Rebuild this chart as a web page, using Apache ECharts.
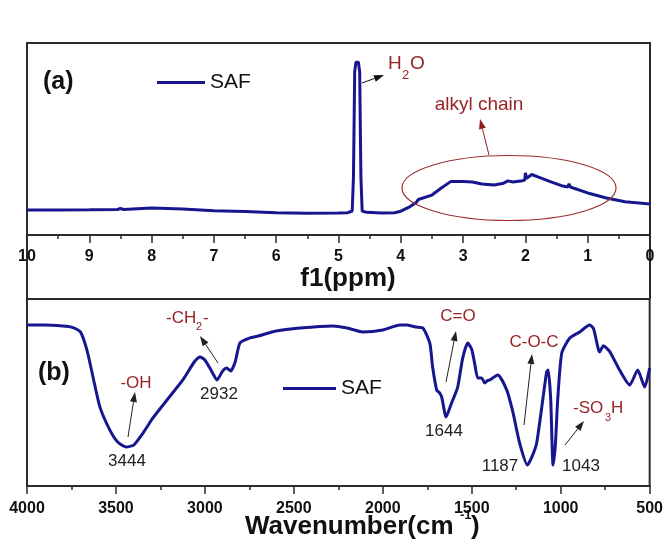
<!DOCTYPE html>
<html>
<head>
<meta charset="utf-8">
<script src="https://cdn.jsdelivr.net/npm/echarts@6/dist/echarts.min.js"></script>
<style>
html,body{margin:0;padding:0;background:#fff;}
#c{width:666px;height:547px;}
</style>
</head>
<body>
<div id="c"></div>
<script>
// ---- Data ----
// (a) 1H NMR spectrum of SAF
const nmrPpm = [10.0, 9.5, 9.0, 8.55, 8.5, 8.45, 8.0, 7.5, 7.0, 6.5, 6.0, 5.5, 5.0, 4.85, 4.78, 4.76, 4.74, 4.72, 4.68, 4.66, 4.64, 4.62, 4.55, 4.3, 4.1, 4.0, 3.85, 3.75, 3.72, 3.69, 3.5, 3.35, 3.2, 3.0, 2.85, 2.7, 2.5, 2.35, 2.28, 2.2, 2.05, 2.01, 2.0, 1.98, 1.9, 1.8, 1.6, 1.4, 1.32, 1.3, 1.28, 1.0, 0.7, 0.4, 0.0];
const nmrIntensity = [13.0, 13.0, 13.1, 13.3, 13.8, 13.3, 14.1, 13.6, 12.6, 12.3, 11.6, 11.3, 11.4, 11.6, 12.5, 30, 85, 90, 90, 85, 30, 12.5, 11.8, 11.4, 11.6, 12.4, 14.8, 17.0, 18.5, 17.6, 20.8, 24.5, 27.8, 27.9, 27.6, 26.6, 26.0, 27.0, 28.2, 27.6, 28.3, 28.6, 32.4, 29.5, 31.5, 30.3, 27.8, 25.5, 25.0, 26.6, 25.0, 21.9, 19.3, 17.3, 16.1];
// (b) FTIR spectrum of SAF
const irWavenumber = [4000, 3900, 3800, 3750, 3700, 3663, 3629, 3590, 3534, 3490, 3444, 3400, 3348, 3292, 3213, 3124, 3060, 3028, 3000, 2960, 2932, 2900, 2878, 2855, 2830, 2803, 2750, 2700, 2600, 2466, 2281, 2200, 2112, 2000, 1904, 1866, 1815, 1775, 1736, 1720, 1697, 1680, 1669, 1644, 1615, 1579, 1551, 1522, 1500, 1483, 1466, 1444, 1427, 1410, 1398, 1354, 1303, 1269, 1231, 1187, 1160, 1135, 1101, 1079, 1070, 1056, 1043, 1030, 1017, 994, 949, 893, 837, 815, 781, 760, 725, 669, 612, 567, 528, 500];
const irIntensity = [86.1, 86.1, 85.6, 85.0, 82.4, 72.7, 58.3, 42.2, 29.9, 23.5, 20.9, 21.9, 28.3, 36.4, 46.0, 56.7, 66.3, 69.0, 67.4, 61.0, 56.7, 61.5, 63.1, 61.5, 66.3, 76.5, 79.1, 80.2, 82.9, 84.5, 85.6, 84.5, 82.4, 83.4, 86.1, 86.1, 85.0, 84.5, 76.5, 63.6, 51.3, 49.7, 47.6, 36.9, 44.0, 52.9, 68.4, 76.5, 73.0, 65.2, 57.8, 57.8, 55.1, 56.5, 56.7, 59.4, 51.3, 39.6, 23.0, 11.2, 16.0, 23.0, 46.0, 61.0, 62.0, 46.0, 11.2, 22.0, 46.0, 71.1, 79.1, 82.4, 86.1, 84.0, 71.7, 75.0, 72.0, 62.0, 54.0, 62.0, 52.9, 63.1];
// axis ranges / tick labels
const nmrAxis = {min: 0, max: 10, interval: 1};
const irAxis = {min: 500, max: 4000, interval: 500};
const seriesName = 'SAF';
const peakLabels = ['3444', '2932', '1644', '1187', '1043'];

// ---- Chart ----
const FONT = '"Liberation Sans", Arial, sans-serif';
const LINE = '#16168f';
const AXC = '#2b2b2b';
const RED = '#962424';

const chart = echarts.init(document.getElementById('c'), null, {renderer: 'canvas'});

function xAxisCfg(gi, ax, margin) {
  return {
    gridIndex: gi, type: 'value', inverse: true,
    min: ax.min, max: ax.max, interval: ax.interval,
    axisLine: {show: true, onZero: false, lineStyle: {color: AXC, width: 2}},
    axisTick: {show: true, length: 8, lineStyle: {color: AXC, width: 1.5}},
    minorTick: {show: true, splitNumber: 2, length: 4, lineStyle: {color: AXC, width: 1.5}},
    splitLine: {show: false},
    axisLabel: {show: true, margin: margin, fontSize: 16, fontWeight: 'bold', fontFamily: FONT, color: '#111',
      showMinLabel: true, showMaxLabel: true, formatter: v => String(v)}
  };
}

function arrow(x1, y1, x2, y2, color) {
  const dx = x2 - x1, dy = y2 - y1, len = Math.hypot(dx, dy);
  const ux = dx / len, uy = dy / len, L = 10, W = 7;
  const bx = x2 - ux * L, by = y2 - uy * L;
  const nx = -uy, ny = ux;
  return [
    {type: 'line', shape: {x1: x1, y1: y1, x2: bx, y2: by}, style: {stroke: color, lineWidth: 1}, z: 10},
    {type: 'polygon', shape: {points: [[x2, y2], [bx + nx * W / 2, by + ny * W / 2], [bx - nx * W / 2, by - ny * W / 2]]},
      style: {fill: color}, z: 10}
  ];
}
function txt(x, y, s, size, color, opt) {
  opt = opt || {};
  return {type: 'text', x: x, y: y, z: 10, style: {
    text: s, fontSize: size, fontFamily: FONT, fontWeight: opt.bold ? 'bold' : 'normal',
    fill: color, align: opt.align || 'center', verticalAlign: 'middle'}};
}

const graphics = [].concat(
  // left/right frame lines bridging the gap between the two panels
  [{type: 'line', shape: {x1: 27, y1: 235, x2: 27, y2: 299}, style: {stroke: AXC, lineWidth: 2}},
   {type: 'line', shape: {x1: 650, y1: 235, x2: 650, y2: 299}, style: {stroke: AXC, lineWidth: 2}}],
  // panel (a)
  [txt(43, 82, '(a)', 25, '#111', {bold: true, align: 'left'})],
  [txt(388, 64, 'H', 19, RED, {align: 'left'}), txt(402, 75, '2', 13, RED, {align: 'left'}), txt(410, 64, 'O', 19, RED, {align: 'left'})],
  arrow(362, 83, 384, 75, '#111'),
  [{type: 'ellipse', shape: {cx: 509, cy: 188, rx: 107, ry: 32.5}, style: {fill: 'none', stroke: '#a03030', lineWidth: 1.2}, z: 9}],
  arrow(489, 155, 480, 119, '#8b2020'),
  [txt(479, 105, 'alkyl chain', 19, RED)],
  // panel (b)
  [txt(38, 373, '(b)', 25, '#111', {bold: true, align: 'left'})],
  [txt(136, 383, '-OH', 17, RED)],
  arrow(128, 437, 135, 392, '#222'),
  [txt(127, 461, peakLabels[0], 17, '#222')],
  [txt(166, 318, '-CH', 17, RED, {align: 'left'}), txt(196, 327, '2', 11, RED, {align: 'left'}), txt(203, 318, '-', 17, RED, {align: 'left'})],
  arrow(218, 363, 200, 336, '#222'),
  [txt(219, 394, peakLabels[1], 17, '#222')],
  [txt(458, 316, 'C=O', 17, RED)],
  arrow(446, 382, 456, 331, '#222'),
  [txt(444, 431, peakLabels[2], 17, '#222')],
  [txt(534, 342, 'C-O-C', 17, RED)],
  arrow(524, 425, 532, 354, '#222'),
  [txt(500, 466, peakLabels[3], 17, '#222')],
  [txt(581, 466, peakLabels[4], 17, '#222')],
  [txt(573, 408, '-SO', 17, RED, {align: 'left'}), txt(605, 418, '3', 11, RED, {align: 'left'}), txt(611, 408, 'H', 17, RED, {align: 'left'})],
  arrow(565, 445, 584, 421, '#222'),
  // axis title of panel (b)
  [txt(245, 527, 'Wavenumber(cm', 26, '#111', {bold: true, align: 'left'}),
   txt(460, 515, '-1', 13, '#111', {bold: true, align: 'left'}),
   txt(471, 527, ')', 26, '#111', {bold: true, align: 'left'})]
);

const option = {
  backgroundColor: '#ffffff',
  animation: false,
  grid: [
    {left: 27, right: 16, top: 43, height: 192, show: true, borderColor: AXC, borderWidth: 2, containLabel: false},
    {left: 27, right: 16, top: 299, height: 187, show: true, borderColor: AXC, borderWidth: 2, containLabel: false}
  ],
  legend: [
    {data: [seriesName], left: 157, top: 72, padding: 0, icon: 'rect', itemWidth: 48, itemHeight: 3,
      itemStyle: {color: LINE}, textStyle: {fontSize: 21, fontFamily: FONT, color: '#111'}, selectedMode: false},
    {data: [seriesName], left: 283, top: 378, padding: 0, icon: 'rect', itemWidth: 53, itemHeight: 3,
      itemStyle: {color: LINE}, textStyle: {fontSize: 21, fontFamily: FONT, color: '#111'}, selectedMode: false}
  ],
  xAxis: [
    Object.assign(xAxisCfg(0, nmrAxis, 14), {
      name: 'f1(ppm)', nameLocation: 'middle', nameGap: 24,
      nameTextStyle: {fontSize: 26, fontWeight: 'bold', fontFamily: FONT, color: '#111', padding: [0, 0, 0, 19], verticalAlign: 'top'}
    }),
    xAxisCfg(1, irAxis, 15)
  ],
  yAxis: [
    {gridIndex: 0, type: 'value', min: 0, max: 100, show: false},
    {gridIndex: 1, type: 'value', min: 0, max: 100, show: false}
  ],
  series: [
    {name: seriesName, type: 'line', xAxisIndex: 0, yAxisIndex: 0, showSymbol: false, smooth: false,
      lineStyle: {color: LINE, width: 3}, itemStyle: {color: LINE},
      data: nmrPpm.map((p, i) => [p, nmrIntensity[i]])},
    {name: seriesName, type: 'line', xAxisIndex: 1, yAxisIndex: 1, showSymbol: false, smooth: 0.2,
      lineStyle: {color: LINE, width: 3}, itemStyle: {color: LINE},
      data: irWavenumber.map((w, i) => [w, irIntensity[i]])}
  ],
  graphic: graphics
};
chart.setOption(option);
</script>
</body>
</html>
